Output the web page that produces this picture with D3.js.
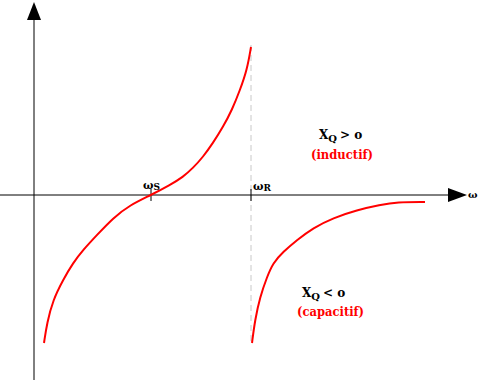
<!DOCTYPE html>
<html>
<head>
<meta charset="utf-8">
<script src="https://cdn.jsdelivr.net/npm/d3@7"></script>
<style>
  body { margin: 0; background: #fff; }
  text { font-family: "DejaVu Serif", serif; font-weight: bold; }
</style>
</head>
<body>
<script>
// chart size
var w = 480;
var h = 380;

// reactance curve below resonance (omega, X)
var leftOmega = [0.10, 0.13, 0.19, 0.29, 0.39, 0.49, 0.63, 0.79, 0.96, 1.17, 1.36, 1.49, 1.59, 1.69, 1.79, 1.89, 1.98, 2.06, 2.13, 2.17];
var leftX     = [-1.48, -1.28, -1.05, -0.85, -0.68, -0.55, -0.40, -0.23, -0.10, 0, 0.10, 0.18, 0.27, 0.38, 0.52, 0.68, 0.85, 1.05, 1.25, 1.48];

// reactance curve above resonance
var rightOmega = [2.18, 2.21, 2.26, 2.33, 2.39, 2.49, 2.63, 2.79, 2.99, 3.23, 3.46, 3.63, 3.91];
var rightX     = [-1.48, -1.25, -1.02, -0.82, -0.68, -0.57, -0.45, -0.33, -0.23, -0.15, -0.10, -0.07, -0.07];

// special frequencies on the axis
var omegaS = 1.17;
var omegaR = 2.17;

// scales : 0,0 is where the axes cross
var xScale = d3.scaleLinear().domain([0, 1]).range([34, 134]);
var yScale = d3.scaleLinear().domain([0, 1]).range([195, 95]);

var svg = d3.select("body")
    .append("svg")
    .attr("width", w)
    .attr("height", h);

var x0 = xScale(0), y0 = yScale(0);

// dashed line at resonance
svg.append("line")
    .attr("x1", xScale(omegaR)).attr("x2", xScale(omegaR))
    .attr("y1", yScale(1.5)).attr("y2", yScale(-1.5))
    .attr("stroke", "#c8c8c8")
    .attr("stroke-dasharray", "6,4");

// axes
svg.append("line")
    .attr("x1", 0).attr("x2", 450)
    .attr("y1", y0).attr("y2", y0)
    .attr("stroke", "#000");
svg.append("line")
    .attr("x1", x0).attr("x2", x0)
    .attr("y1", 18).attr("y2", h)
    .attr("stroke", "#000");

// arrow heads
svg.append("path")
    .attr("d", "M" + x0 + ",2 L" + (x0 - 7) + ",20 L" + (x0 + 7) + ",20 Z")
    .attr("fill", "#000");
svg.append("path")
    .attr("d", "M467," + y0 + " L448," + (y0 - 7) + " L448," + (y0 + 7) + " Z")
    .attr("fill", "#000");

// ticks on the omega axis
[omegaS, omegaR].forEach(function(v) {
    svg.append("line")
        .attr("x1", xScale(v)).attr("x2", xScale(v))
        .attr("y1", y0 - 6).attr("y2", y0 + 6)
        .attr("stroke", "#000");
});

// the two curves
var line = d3.line()
    .x(function(d) { return xScale(d[0]); })
    .y(function(d) { return yScale(d[1]); })
    .curve(d3.curveBasis);

svg.append("path")
    .datum(d3.zip(leftOmega, leftX))
    .attr("d", line)
    .attr("fill", "none")
    .attr("stroke", "#ff0000")
    .attr("stroke-width", 2);

svg.append("path")
    .datum(d3.zip(rightOmega, rightX))
    .attr("d", line)
    .attr("fill", "none")
    .attr("stroke", "#ff0000")
    .attr("stroke-width", 2);

// labels
function omegaLabel(x, y, sub) {
    var t = svg.append("text").attr("x", x).attr("y", y).attr("font-size", 11);
    t.append("tspan").text("ω");
    t.append("tspan").attr("font-size", 9).attr("dy", 1).text(sub);
}
omegaLabel(xScale(omegaS) - 8, y0 - 6, "S");
omegaLabel(xScale(omegaR) + 2, y0 - 5, "R");

svg.append("text")
    .attr("x", 468).attr("y", y0 + 3)
    .attr("font-size", 10)
    .text("ω");

function xqLabel(x, y, sign) {
    var t = svg.append("text").attr("x", x).attr("y", y).attr("font-size", 12);
    t.append("tspan").text("X");
    t.append("tspan").attr("font-size", 10).attr("dy", 3).text("Q");
    t.append("tspan").attr("dy", -3).attr("dx", 3).text(sign + " o");
}
xqLabel(319, 139, ">");
xqLabel(302, 297, "<");

svg.append("text")
    .attr("x", 311).attr("y", 159)
    .attr("font-size", 12)
    .attr("fill", "#ff0000")
    .attr("textLength", 62)
    .attr("lengthAdjust", "spacingAndGlyphs")
    .text("(inductif)");
svg.append("text")
    .attr("x", 297).attr("y", 316)
    .attr("font-size", 12)
    .attr("fill", "#ff0000")
    .attr("textLength", 67)
    .attr("lengthAdjust", "spacingAndGlyphs")
    .text("(capacitif)");
</script>
</body>
</html>
